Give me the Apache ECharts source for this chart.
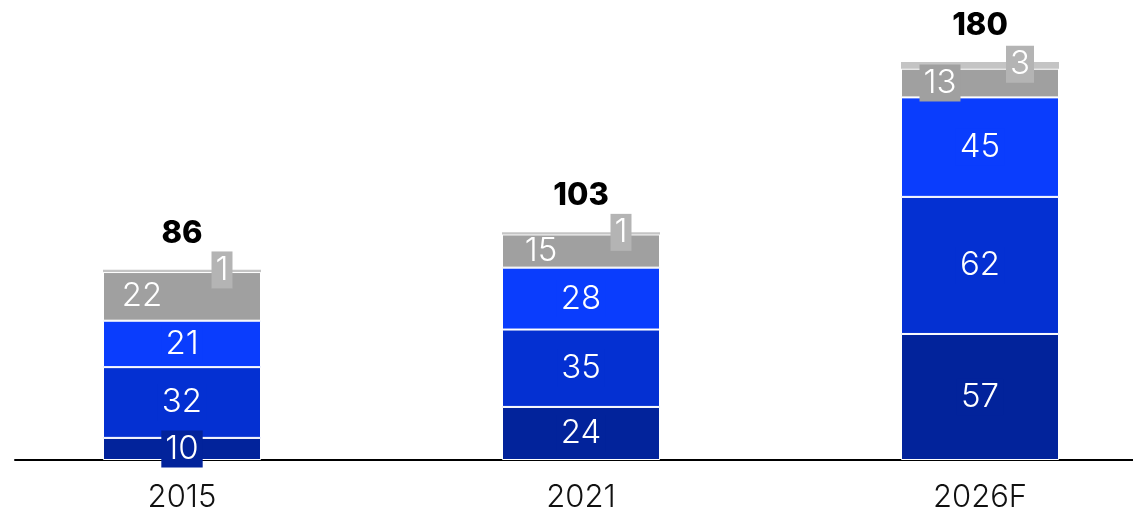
<!DOCTYPE html>
<html>
<head>
<meta charset="utf-8">
<script src="https://cdn.jsdelivr.net/npm/echarts@6/dist/echarts.min.js"></script>
<style>
  html, body { margin: 0; padding: 0; background: #ffffff; }
  #chart { width: 1133px; height: 512px; }
</style>
</head>
<body>
<div id="chart"></div>
<script>
// Categories and stacked segment values (bottom to top)
const years = ['2015', '2021', '2026F'];
const segA = [10, 24, 57];   // navy
const segB = [32, 35, 62];   // medium blue
const segC = [21, 28, 45];   // bright blue
const segD = [22, 15, 13];   // grey
const segE = [1, 1, 3];      // light grey

const totals = years.map((_, i) => segA[i] + segB[i] + segC[i] + segD[i] + segE[i]);

const FONT = 'Inter, "Noto Sans", sans-serif';

function segLabel(bg, extra) {
  return Object.assign({
    show: true,
    position: 'inside',
    color: '#ffffff',
    fontFamily: FONT,
    fontWeight: 300,
    fontSize: 33,
    lineHeight: 33,
    backgroundColor: bg,
    padding: [2, 4, 2, 4]
  }, extra || {});
}

function barSeries(name, data, color, label, border) {
  return {
    name: name,
    type: 'bar',
    stack: 'total',
    barWidth: 158,
    data: data,
    itemStyle: {
      color: color,
      borderColor: '#ffffff',
      borderWidth: border
    },
    label: label,
    emphasis: { disabled: true },
    silent: true
  };
}

// grey segments only get a label box when the segment is shorter than the text
const segDItems = segD.map(v => v < 14
  ? { value: v }
  : { value: v, label: { backgroundColor: 'transparent' } });

const chart = echarts.init(document.getElementById('chart'), null, { renderer: 'canvas' });

chart.setOption({
  animation: false,
  grid: [
    { left: -17.5, right: -46.5, top: 62, bottom: 52, outerBoundsMode: 'none' },
    { left: 15, right: 0, top: 62, bottom: 52, outerBoundsMode: 'none' }
  ],
  xAxis: [
    {
      type: 'category',
      gridIndex: 0,
      data: years,
      axisLine: { show: false },
      axisTick: { show: false },
      axisLabel: {
        color: '#111111',
        fontFamily: FONT,
        fontWeight: 300,
        fontSize: 31,
        margin: 22
      }
    },
    {
      // baseline rule under the bars
      type: 'value',
      gridIndex: 1,
      min: 0,
      max: 1,
      axisLine: { show: true, onZero: false, lineStyle: { color: '#000000', width: 2 } },
      axisTick: { show: false },
      axisLabel: { show: false },
      splitLine: { show: false }
    }
  ],
  yAxis: [
    { type: 'value', gridIndex: 0, min: 0, max: 180, show: false },
    { type: 'value', gridIndex: 1, min: 0, max: 1, show: false }
  ],
  series: [
    barSeries('A', segA, '#02239b', segLabel('#02239b'), 1),
    barSeries('B', segB, '#0430d2', segLabel('#0430d2'), 1),
    barSeries('C', segC, '#0a3dfd', segLabel('#0a3dfd'), 1),
    barSeries('D', segDItems, '#a0a0a0', segLabel('#a0a0a0', { offset: [-40, 0] }), 1),
    barSeries('E', segE, '#c4c4c4', segLabel('#b4b4b4', { offset: [40, -1] }), 0),
    {
      name: 'Total',
      type: 'scatter',
      data: totals,
      symbol: 'circle',
      symbolSize: 2,
      itemStyle: { color: 'rgba(255,255,255,0)' },
      silent: true,
      z: 10,
      label: {
        show: true,
        position: 'top',
        distance: 20,
        color: '#000000',
        opacity: 1,
        fontFamily: FONT,
        fontWeight: 800,
        fontSize: 31
      }
    }
  ]
});
</script>
</body>
</html>
